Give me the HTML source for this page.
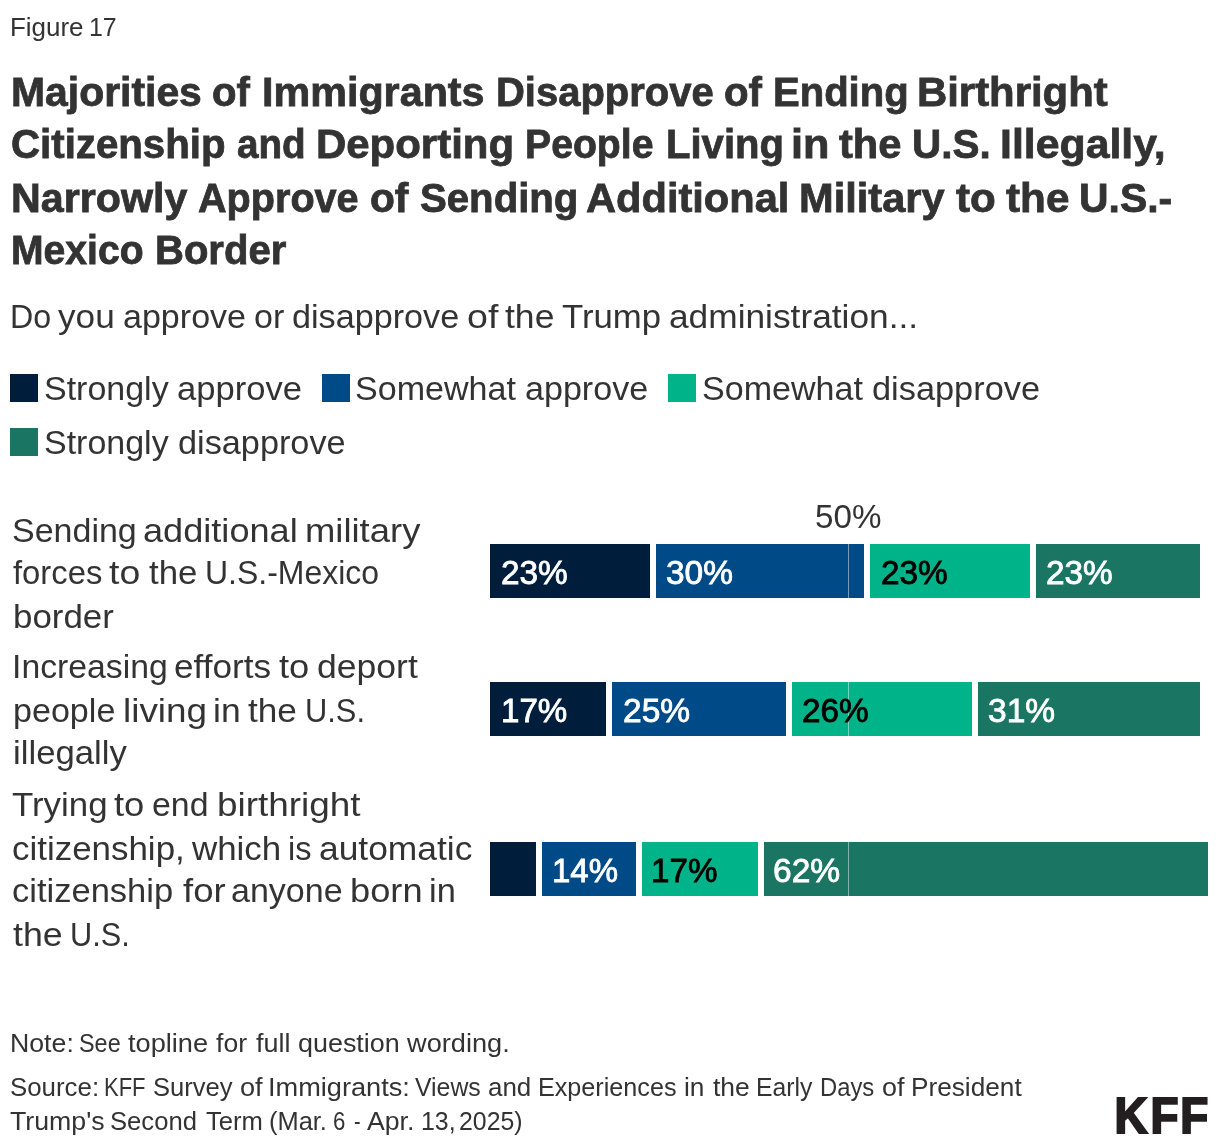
<!DOCTYPE html>
<html lang="en"><head><meta charset="utf-8"><title>Figure 17</title>
<style>
html,body{margin:0;padding:0;background:#fff;}
body{width:1220px;height:1148px;overflow:hidden;position:relative;font-family:"Liberation Sans",Arial,Helvetica,sans-serif;color:#333;}
.ln{position:absolute;left:0;height:0;line-height:0;white-space:nowrap;margin:0;padding:0;font-weight:400;}
.ln .w{position:absolute;top:0;height:0;line-height:0;white-space:nowrap;transform-origin:0 0;}
h1,p{margin:0;padding:0;font-size:inherit;font-weight:inherit;}
.bar,.sw,.grid{position:absolute;}
.val,.t{-webkit-text-stroke:0.8px currentColor;}
.t{font-weight:700;}
.fig{font-size:26.6px}.t{font-size:40.8px}.sub{font-size:32.6px}.leg{font-size:33.8px}.lab,.ax{font-size:33.8px}.val{font-size:32.4px}.note{font-size:26.5px}
</style></head>
<body>
<header>
<div class="ln fig" style="top:26.78px;"><span class="w" style="left:9.65px;transform:scaleX(0.9754)">Figure</span> <span class="w" style="left:88.63px;transform:scaleX(0.9369)">17</span></div>
<h1>
<span class="ln t" style="top:91.86px;"><span class="w" style="left:11.24px;transform:scaleX(1.0022)">Majorities</span> <span class="w" style="left:212.12px;transform:scaleX(0.9836)">of</span> <span class="w" style="left:261.83px;transform:scaleX(1.0122)">Immigrants</span> <span class="w" style="left:495.74px;transform:scaleX(0.9799)">Disapprove</span> <span class="w" style="left:724.07px;transform:scaleX(0.9869)">of</span> <span class="w" style="left:773.35px;transform:scaleX(0.9812)">Ending</span> <span class="w" style="left:917.45px;transform:scaleX(1.0262)">Birthright</span></span>
<span class="ln t" style="top:143.86px;"><span class="w" style="left:11.35px;transform:scaleX(0.9861)">Citizenship</span> <span class="w" style="left:236.68px;transform:scaleX(0.9460)">and</span> <span class="w" style="left:315.94px;transform:scaleX(1.0280)">Deporting</span> <span class="w" style="left:524.98px;transform:scaleX(0.9605)">People</span> <span class="w" style="left:665.54px;transform:scaleX(0.9819)">Living</span> <span class="w" style="left:790.92px;transform:scaleX(1.0606)">in</span> <span class="w" style="left:839.00px;transform:scaleX(1.0212)">the</span> <span class="w" style="left:912.08px;transform:scaleX(0.9908)">U.S.</span> <span class="w" style="left:999.70px;transform:scaleX(1.0493)">Illegally,</span></span>
<span class="ln t" style="top:197.86px;"><span class="w" style="left:11.32px;transform:scaleX(1.0100)">Narrowly</span> <span class="w" style="left:198.20px;transform:scaleX(0.9707)">Approve</span> <span class="w" style="left:369.60px;transform:scaleX(0.9968)">of</span> <span class="w" style="left:419.52px;transform:scaleX(0.9842)">Sending</span> <span class="w" style="left:585.80px;transform:scaleX(1.0199)">Additional</span> <span class="w" style="left:798.96px;transform:scaleX(1.0196)">Military</span> <span class="w" style="left:956.17px;transform:scaleX(1.0318)">to</span> <span class="w" style="left:1005.98px;transform:scaleX(1.0356)">the</span> <span class="w" style="left:1078.98px;transform:scaleX(1.0024)">U.S.-</span></span>
<span class="ln t" style="top:249.86px;"><span class="w" style="left:11.25px;transform:scaleX(0.9583)">Mexico</span> <span class="w" style="left:154.74px;transform:scaleX(0.9813)">Border</span></span>
</h1>
<p class="ln sub" style="top:316.70px;"><span class="w" style="left:10.42px;transform:scaleX(0.9882)">Do</span> <span class="w" style="left:58.23px;transform:scaleX(1.0799)">you</span> <span class="w" style="left:122.66px;transform:scaleX(1.0449)">approve</span> <span class="w" style="left:254.46px;transform:scaleX(1.0440)">or</span> <span class="w" style="left:292.21px;transform:scaleX(1.0489)">disapprove</span> <span class="w" style="left:467.04px;transform:scaleX(1.1536)">of</span> <span class="w" style="left:505.31px;transform:scaleX(1.0905)">the</span> <span class="w" style="left:561.78px;transform:scaleX(1.0663)">Trump</span> <span class="w" style="left:669.35px;transform:scaleX(1.0830)">administration...</span></p>
</header>
<section class="legend">
<span class="sw" style="left:10px;top:374px;width:28px;height:28px;background:#001e3c"></span>
<span class="ln leg" style="top:388.28px;"><span class="w" style="left:43.56px;transform:scaleX(1.0055)">Strongly</span> <span class="w" style="left:177.46px;transform:scaleX(1.0237)">approve</span></span>
<span class="sw" style="left:322px;top:374px;width:28px;height:28px;background:#004b87"></span>
<span class="ln leg" style="top:388.28px;"><span class="w" style="left:355.17px;transform:scaleX(1.0078)">Somewhat</span> <span class="w" style="left:525.33px;transform:scaleX(1.0083)">approve</span></span>
<span class="sw" style="left:668px;top:374px;width:28px;height:28px;background:#00b388"></span>
<span class="ln leg" style="top:388.28px;"><span class="w" style="left:702.12px;transform:scaleX(1.0074)">Somewhat</span> <span class="w" style="left:872.49px;transform:scaleX(1.0162)">disapprove</span></span>
<span class="sw" style="left:10px;top:428px;width:28px;height:28px;background:#1b7563"></span>
<span class="ln leg" style="top:442.28px;"><span class="w" style="left:43.56px;transform:scaleX(1.0055)">Strongly</span> <span class="w" style="left:178.30px;transform:scaleX(1.0134)">disapprove</span></span>
</section>
<main class="chart">
<div class="ln ax" style="top:516.28px;"><span class="w" style="left:815.05px;transform:scaleX(0.9822)">50%</span></div>
<div class="row">
<div class="ln lab" style="top:530.28px;"><span class="w" style="left:12.04px;transform:scaleX(1.0058)">Sending</span> <span class="w" style="left:143.04px;transform:scaleX(1.0694)">additional</span> <span class="w" style="left:304.64px;transform:scaleX(1.0778)">military</span></div>
<div class="ln lab" style="top:572.28px;"><span class="w" style="left:13.00px;transform:scaleX(0.9700)">forces</span> <span class="w" style="left:109.32px;transform:scaleX(1.1082)">to</span> <span class="w" style="left:148.64px;transform:scaleX(1.0300)">the</span> <span class="w" style="left:205.13px;transform:scaleX(0.9458)">U.S.-Mexico</span></div>
<div class="ln lab" style="top:616.28px;"><span class="w" style="left:12.55px;transform:scaleX(1.0329)">border</span></div>
<div class="bar" style="left:490px;top:544px;width:160px;height:54px;background:#001e3c"></div>
<div class="bar" style="left:656px;top:544px;width:208px;height:54px;background:#004b87"></div>
<div class="bar" style="left:870px;top:544px;width:160px;height:54px;background:#00b388"></div>
<div class="bar" style="left:1036px;top:544px;width:164px;height:54px;background:#1b7563"></div>
<div class="grid" style="left:848px;top:544px;width:1px;height:54px;background:rgba(255,255,255,0.45)"></div>
<span class="ln val" style="top:572.77px;color:#ffffff;"><span class="w" style="left:501.05px;transform:scaleX(1.0302)">23%</span></span>
<span class="ln val" style="top:572.77px;color:#ffffff;"><span class="w" style="left:665.91px;transform:scaleX(1.0323)">30%</span></span>
<span class="ln val" style="top:572.77px;color:#000000;"><span class="w" style="left:880.63px;transform:scaleX(1.0300)">23%</span></span>
<span class="ln val" style="top:572.77px;color:#ffffff;"><span class="w" style="left:1045.97px;transform:scaleX(1.0295)">23%</span></span>
</div>
<div class="row">
<div class="ln lab" style="top:666.28px;"><span class="w" style="left:12.00px;transform:scaleX(0.9991)">Increasing</span> <span class="w" style="left:174.35px;transform:scaleX(1.0400)">efforts</span> <span class="w" style="left:278.97px;transform:scaleX(1.0742)">to</span> <span class="w" style="left:316.92px;transform:scaleX(1.0519)">deport</span></div>
<div class="ln lab" style="top:710.28px;"><span class="w" style="left:13.32px;transform:scaleX(1.0083)">people</span> <span class="w" style="left:123.16px;transform:scaleX(1.0920)">living</span> <span class="w" style="left:212.78px;transform:scaleX(1.0501)">in</span> <span class="w" style="left:248.12px;transform:scaleX(1.0396)">the</span> <span class="w" style="left:305.34px;transform:scaleX(0.9120)">U.S.</span></div>
<div class="ln lab" style="top:752.28px;"><span class="w" style="left:12.85px;transform:scaleX(1.0273)">illegally</span></div>
<div class="bar" style="left:490px;top:682px;width:116px;height:54px;background:#001e3c"></div>
<div class="bar" style="left:612px;top:682px;width:174px;height:54px;background:#004b87"></div>
<div class="bar" style="left:792px;top:682px;width:180px;height:54px;background:#00b388"></div>
<div class="bar" style="left:978px;top:682px;width:222px;height:54px;background:#1b7563"></div>
<div class="grid" style="left:848px;top:682px;width:1px;height:54px;background:rgba(255,255,255,0.45)"></div>
<span class="ln val" style="top:710.77px;color:#ffffff;"><span class="w" style="left:500.95px;transform:scaleX(1.0233)">17%</span></span>
<span class="ln val" style="top:710.77px;color:#ffffff;"><span class="w" style="left:622.70px;transform:scaleX(1.0356)">25%</span></span>
<span class="ln val" style="top:710.77px;color:#000000;"><span class="w" style="left:801.97px;transform:scaleX(1.0297)">26%</span></span>
<span class="ln val" style="top:710.77px;color:#ffffff;"><span class="w" style="left:988.27px;transform:scaleX(1.0345)">31%</span></span>
</div>
<div class="row">
<div class="ln lab" style="top:804.28px;"><span class="w" style="left:12.13px;transform:scaleX(1.0313)">Trying</span> <span class="w" style="left:114.00px;transform:scaleX(1.0762)">to</span> <span class="w" style="left:152.10px;transform:scaleX(1.0020)">end</span> <span class="w" style="left:216.80px;transform:scaleX(1.0919)">birthright</span></div>
<div class="ln lab" style="top:848.28px;"><span class="w" style="left:12.21px;transform:scaleX(1.0333)">citizenship,</span> <span class="w" style="left:191.65px;transform:scaleX(1.0325)">which</span> <span class="w" style="left:287.74px;transform:scaleX(0.9617)">is</span> <span class="w" style="left:319.15px;transform:scaleX(1.0468)">automatic</span></div>
<div class="ln lab" style="top:890.28px;"><span class="w" style="left:12.37px;transform:scaleX(1.0213)">citizenship</span> <span class="w" style="left:182.64px;transform:scaleX(1.0833)">for</span> <span class="w" style="left:231.25px;transform:scaleX(1.0064)">anyone</span> <span class="w" style="left:349.86px;transform:scaleX(1.0725)">born</span> <span class="w" style="left:429.27px;transform:scaleX(1.0174)">in</span></div>
<div class="ln lab" style="top:934.28px;"><span class="w" style="left:12.80px;transform:scaleX(1.0573)">the</span> <span class="w" style="left:69.50px;transform:scaleX(0.9092)">U.S.</span></div>
<div class="bar" style="left:490px;top:842px;width:46px;height:54px;background:#001e3c"></div>
<div class="bar" style="left:542px;top:842px;width:94px;height:54px;background:#004b87"></div>
<div class="bar" style="left:642px;top:842px;width:116px;height:54px;background:#00b388"></div>
<div class="bar" style="left:764px;top:842px;width:444px;height:54px;background:#1b7563"></div>
<div class="grid" style="left:848px;top:842px;width:1px;height:54px;background:rgba(255,255,255,0.45)"></div>
<span class="ln val" style="top:870.77px;color:#ffffff;"><span class="w" style="left:551.62px;transform:scaleX(1.0179)">14%</span></span>
<span class="ln val" style="top:870.77px;color:#000000;"><span class="w" style="left:651.45px;transform:scaleX(1.0237)">17%</span></span>
<span class="ln val" style="top:870.77px;color:#ffffff;"><span class="w" style="left:773.36px;transform:scaleX(1.0360)">62%</span></span>
</div>
</main>
<footer>
<div class="ln note" style="top:1042.81px;"><span class="w" style="left:9.99px;transform:scaleX(1.0072)">Note:</span> <span class="w" style="left:79.29px;transform:scaleX(0.8833)">See</span> <span class="w" style="left:128.17px;transform:scaleX(1.0255)">topline</span> <span class="w" style="left:216.06px;transform:scaleX(1.0019)">for</span> <span class="w" style="left:255.60px;transform:scaleX(1.0155)">full</span> <span class="w" style="left:297.83px;transform:scaleX(1.0153)">question</span> <span class="w" style="left:406.89px;transform:scaleX(1.0255)">wording.</span></div>
<div class="ln note" style="top:1086.81px;"><span class="w" style="left:10.22px;transform:scaleX(0.9754)">Source:</span> <span class="w" style="left:104.44px;transform:scaleX(0.8304)">KFF</span> <span class="w" style="left:153.23px;transform:scaleX(0.9635)">Survey</span> <span class="w" style="left:239.98px;transform:scaleX(1.0234)">of</span> <span class="w" style="left:268.05px;transform:scaleX(1.0252)">Immigrants:</span> <span class="w" style="left:414.50px;transform:scaleX(0.9363)">Views</span> <span class="w" style="left:487.64px;transform:scaleX(0.9796)">and</span> <span class="w" style="left:538.44px;transform:scaleX(0.9495)">Experiences</span> <span class="w" style="left:684.07px;transform:scaleX(0.9910)">in</span> <span class="w" style="left:712.88px;transform:scaleX(0.9974)">the</span> <span class="w" style="left:756.46px;transform:scaleX(0.9324)">Early</span> <span class="w" style="left:820.47px;transform:scaleX(0.8978)">Days</span> <span class="w" style="left:881.98px;transform:scaleX(1.0165)">of</span> <span class="w" style="left:911.08px;transform:scaleX(0.9884)">President</span></div>
<div class="ln note" style="top:1120.81px;"><span class="w" style="left:10.18px;transform:scaleX(1.0074)">Trump's</span> <span class="w" style="left:110.04px;transform:scaleX(0.9666)">Second</span> <span class="w" style="left:205.78px;transform:scaleX(0.9671)">Term</span> <span class="w" style="left:268.99px;transform:scaleX(0.9588)">(Mar.</span> <span class="w" style="left:333.16px;transform:scaleX(0.8370)">6</span> <span class="w" style="left:354.29px;transform:scaleX(0.7440)">-</span> <span class="w" style="left:366.50px;transform:scaleX(1.0050)">Apr.</span> <span class="w" style="left:420.63px;transform:scaleX(0.9398)">13,</span> <span class="w" style="left:458.74px;transform:scaleX(0.9378)">2025)</span></div>
<svg class="logo" style="position:absolute;left:1100px;top:1085px" width="120" height="60" viewBox="0 0 120 60"><text transform="scale(0.93,1)" x="15.62 54.20 86.24" y="47.85" font-family="Liberation Sans, Arial, sans-serif" font-weight="700" font-size="49.3" fill="#231f20" stroke="#231f20" stroke-width="2.1" stroke-linejoin="miter">KFF</text></svg>
</footer>
</body></html>
